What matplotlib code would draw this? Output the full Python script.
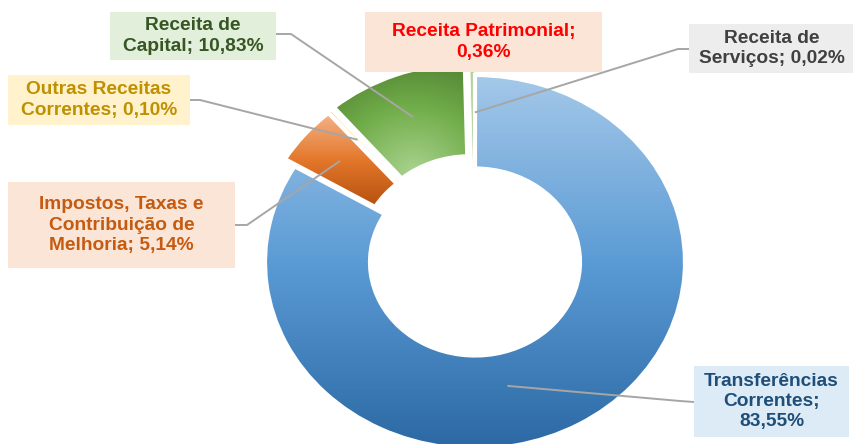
import numpy as np
import matplotlib.pyplot as plt
from matplotlib.patches import Rectangle
from matplotlib.colors import LinearSegmentedColormap

plt.rcParams['font.family'] = ['Liberation Sans', 'DejaVu Sans']

# dados (sentido horário a partir do topo)
categorias = ['Transferências\nCorrentes', 'Impostos, Taxas e\nContribuição de\nMelhoria',
              'Outras Receitas\nCorrentes', 'Receita de\nCapital', 'Receita Patrimonial',
              'Receita de\nServiços']
percentuais = [83.55, 5.14, 0.10, 10.83, 0.36, 0.02]
separadores = [';\n', '; ', '; ', '; ', ';\n', '; ']

cores = ['#5B9BD5', '#ED7D31', '#FFC000', '#70AD47', '#B4D39C', '#A5A5A5']
explode = [0, 0.06, 0.06, 0.07, 0.05, 0.05]

# geometria em pixels
W, H = 854, 444
CX, CY, RX, RY = 475, 262, 210, 187


def px(x, y):
    return (x - CX) / RX, (CY - y) / RY


fig = plt.figure(figsize=(W / 100, H / 100), dpi=100)
ax = fig.add_axes([0, 0, 1, 1])

wedges, _ = ax.pie(percentuais, startangle=90, counterclock=False, colors=cores,
                   explode=explode, radius=1,
                   wedgeprops=dict(width=0.5, edgecolor='white', linewidth=3))
for w, v in zip(wedges, percentuais):
    if v < 1:
        w.set_linewidth(0.6)

# degradês
azul = LinearSegmentedColormap.from_list('azul', ['#2C69A4', '#5B9BD5', '#A4C8E9'])
laranja = LinearSegmentedColormap.from_list('laranja', ['#B5500D', '#E3772B', '#F5B388'])
verde = LinearSegmentedColormap.from_list('verde', ['#A8D28D', '#71AD4A', '#4A7A2D'])

for w, cmap, radial in [(wedges[0], azul, False), (wedges[1], laranja, False), (wedges[3], verde, True)]:
    bb = w.get_path().get_extents()
    xs = np.linspace(bb.x0, bb.x1, 200)
    ys = np.linspace(bb.y0, bb.y1, 200)
    gx, gy = np.meshgrid(xs, ys)
    if radial:
        th = np.deg2rad((w.theta1 + w.theta2) / 2 + 12)
        lx, ly = w.center[0] + 0.5 * np.cos(th), w.center[1] + 0.5 * np.sin(th)
        val = np.hypot(gx - lx, gy - ly)
        val = val / val.max()
    else:
        val = (gy - bb.y0) / (bb.y1 - bb.y0)
    im = ax.imshow(val, extent=[bb.x0, bb.x1, bb.y0, bb.y1], origin='lower',
                   cmap=cmap, aspect='auto', zorder=1)
    im.set_clip_path(w)
    w.set_facecolor('none')
    w.set_zorder(2)

# caixas dos rótulos: (x0, y0, x1, y1), fundo, cor do texto, cotovelo, fim da linha,
# raio e desvio angular da âncora
caixas = [
    ((694, 366, 849, 437), '#DDEBF7', '#1F4E79', (680, 401), (694, 402), 0.68, -16.5),
    ((8, 182, 235, 268), '#FBE5D6', '#C55A11', (247, 225), (235, 225), 0.78, 0),
    ((8, 75, 190, 125), '#FFF2CC', '#BF9000', (200, 100), (190, 100), 0.80, 0),
    ((110, 12, 276, 60), '#E2EFDA', '#375623', (291, 34), (276, 34), 0.76, 0),
    ((365, 12, 602, 72), '#FBE5D6', '#FF0000', None, None, 0, 0),
    ((689, 24, 854, 73), '#EDEDED', '#404040', (678, 49), (689, 49), 0.75, 0),
]

for w, nome, sep, v, (box, fundo, cor, cot, fim, ra, da) in zip(
        wedges, categorias, separadores, percentuais, caixas):
    x0, y0 = px(box[0], box[3])
    x1, y1 = px(box[2], box[1])
    ax.add_patch(Rectangle((x0, y0), x1 - x0, y1 - y0, facecolor=fundo,
                           edgecolor='none', zorder=4, clip_on=False))
    texto = nome + sep + f'{v:.2f}'.replace('.', ',') + '%'
    ax.text((x0 + x1) / 2, (y0 + y1) / 2, texto, ha='center', va='center',
            color=cor, fontsize=13.8, fontweight='bold', linespacing=1.25, zorder=5)
    if cot is not None:
        th = np.deg2rad((w.theta1 + w.theta2) / 2 + da)
        ax_, ay_ = w.center[0] + ra * np.cos(th), w.center[1] + ra * np.sin(th)
        ex, ey = px(*cot)
        fx, fy = px(*fim)
        ax.plot([ax_, ex, fx], [ay_, ey, fy], color='#A6A6A6', lw=1.4,
                zorder=3, solid_capstyle='butt')

ax.set_xlim(-CX / RX, (W - CX) / RX)
ax.set_ylim(-(H - CY) / RY, CY / RY)
ax.set_aspect('auto')
ax.axis('off')

fig.savefig('out.png', dpi=100, facecolor='white')
